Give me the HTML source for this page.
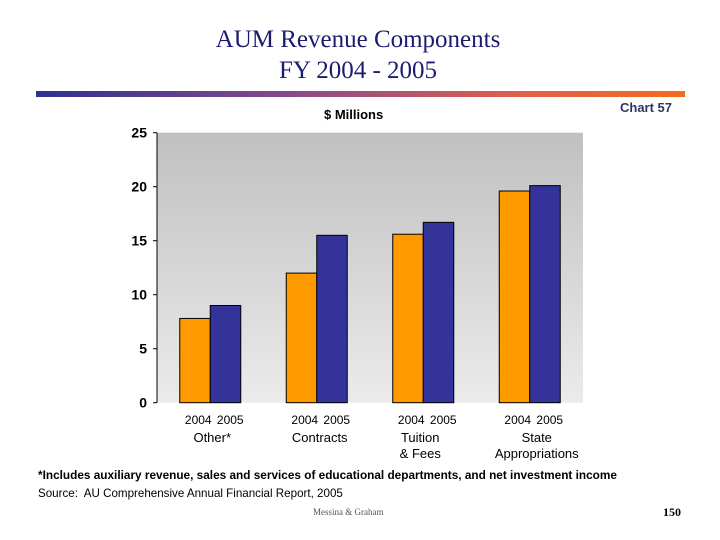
<!DOCTYPE html>
<html><head><meta charset="utf-8"><style>
body{margin:0;width:720px;height:540px;background:#fff;overflow:hidden;position:relative;font-family:"Liberation Sans",Arial,sans-serif}
.t{position:absolute;white-space:nowrap}
</style></head><body>
<div class="t" style="left:0;width:716px;top:24px;text-align:center;font-family:'Liberation Serif',serif;font-size:25px;line-height:31px;color:#1c1c6e">AUM Revenue Components<br>FY 2004 - 2005</div>
<div style="position:absolute;left:36px;top:91px;width:649px;height:6px;background:linear-gradient(90deg,#2e3192,#8a4a8a 40%,#e0604a 75%,#f26b1d)"></div>
<div class="t" style="left:620px;top:100px;font-size:13px;font-weight:bold;color:#333366">Chart 57</div>
<div class="t" style="left:324px;top:107px;font-size:13px;font-weight:bold;color:#000">$ Millions</div>
<svg id="chart" width="720" height="540" style="position:absolute;left:0;top:0">
<defs><linearGradient id="bg" x1="0" y1="0" x2="0" y2="1"><stop offset="0" stop-color="#c0c0c0"/><stop offset="1" stop-color="#ebebeb"/></linearGradient></defs>
</svg>
<div class="t" style="left:38px;top:468px;font-size:11.8px;font-weight:bold;color:#000">*Includes auxiliary revenue, sales and services of educational departments, and net investment income</div>
<div class="t" style="left:38px;top:487px;font-size:11.6px;color:#000">Source:&nbsp; AU Comprehensive Annual Financial Report, 2005</div>
<div class="t" style="left:313px;top:507px;font-family:'Liberation Serif',serif;font-size:9px;color:#555">Messina &amp; Graham</div>
<div class="t" style="left:663px;top:505px;font-family:'Liberation Serif',serif;font-size:12px;font-weight:bold;color:#000">150</div>
<script>
const categories=["Other*","Contracts","Tuition\n& Fees","State\nAppropriations"];
const values2004=[7.8,12.0,15.6,19.6];
const values2005=[9.0,15.5,16.7,20.1];
const yTicks=[0,5,10,15,20,25];
const seriesLabels=["2004","2005"];
const svg=document.getElementById('chart');const NS='http://www.w3.org/2000/svg';
const X0=157,X1=583,Y0=402.7,Y1=132.7,YMAX=25;
const bw=(X1-X0)/categories.length;
function y(v){return Y0-(v/YMAX)*(Y0-Y1);}
function mk(t,a){const e=document.createElementNS(NS,t);for(const k in a)e.setAttribute(k,a[k]);svg.appendChild(e);return e;}
let r=mk('rect',{x:X0,y:Y1,width:X1-X0,height:Y0-Y1,fill:'url(#bg)'});


let ax=mk('line',{x1:X0,y1:Y1,x2:X0,y2:Y0,stroke:'#000','stroke-width':1});


yTicks.forEach(v=>{
 mk('line',{x1:X0-4,x2:X0,y1:y(v),y2:y(v),stroke:'#000'});
 const t=mk('text',{x:X0-10,y:y(v)+5,'text-anchor':'end','font-size':14,'font-weight':'bold','font-family':'Liberation Sans, Arial, sans-serif'});
 t.textContent=v;
 
 
});
const barW=30.5;
categories.forEach((c,i)=>{
 const cx=X0+bw*(i+0.5);
 [values2004[i],values2005[i]].forEach((v,j)=>{
  const b=mk('rect',{x:cx-barW+j*barW,y:y(v),width:barW,height:Y0-y(v),fill:j?'#333399':'#ff9900',stroke:'#000','stroke-width':1});
  
  
  const yl=mk('text',{x:cx+4+(j?16:-16),y:424,'text-anchor':'middle','font-size':12,'font-family':'Liberation Sans, Arial, sans-serif'});
  yl.textContent=seriesLabels[j];
  
  
 });
 c.split('\n').forEach((ln,k)=>{
  const t=mk('text',{x:cx+[2,3,-3,7][i],y:442+k*16,'text-anchor':'middle','font-size':13,'font-family':'Liberation Sans, Arial, sans-serif'});
  t.textContent=ln;
  
  
 });
});
</script>
</body></html>
